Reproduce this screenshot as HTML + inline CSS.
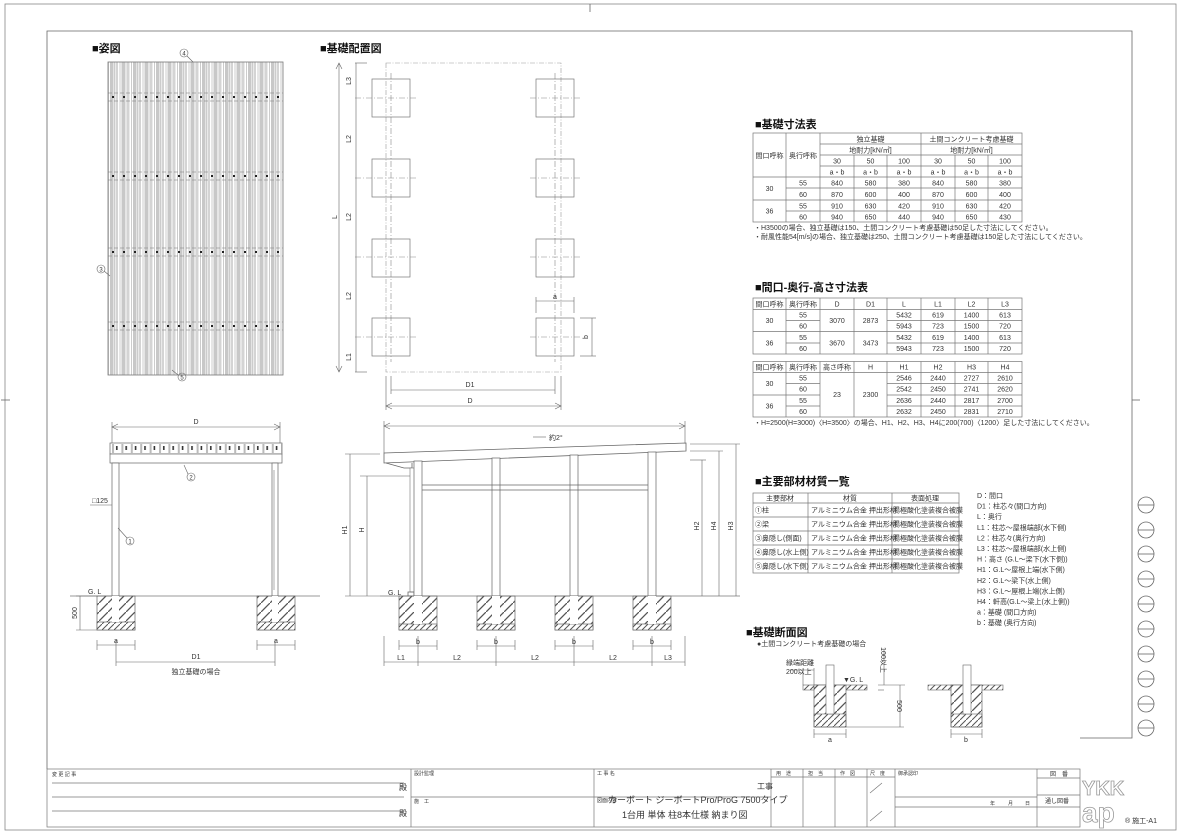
<!DOCTYPE html>
<html><head><meta charset="utf-8"><style>
html,body{margin:0;padding:0;background:#fff;}
svg{display:block;font-family:"Liberation Sans","Noto Sans CJK JP",sans-serif;}
.t{font-size:7px;fill:#333;}
.h{font-size:11px;font-weight:bold;fill:#111;}
.c{text-anchor:middle;}
.ln{stroke:#666;stroke-width:0.8;fill:none;}
.tb{stroke:#777;stroke-width:0.7;fill:none;}
.dl{stroke:#666;stroke-width:0.6;fill:none;}
.dash{stroke:#888;stroke-width:0.6;stroke-dasharray:6 2 1 2;fill:none;}
</style></head><body>
<svg width="1181" height="835" viewBox="0 0 1181 835" xmlns="http://www.w3.org/2000/svg">
<defs>
<pattern id="hatch" patternUnits="userSpaceOnUse" width="9" height="9"><path d="M-1,10 L10,-1" stroke="#555" stroke-width="1.3"/></pattern>
<pattern id="hatch2" patternUnits="userSpaceOnUse" width="6" height="6"><path d="M-1,7 L7,-1" stroke="#555" stroke-width="1"/></pattern>
<pattern id="stripe" patternUnits="userSpaceOnUse" x="108" width="11.5" height="10"><rect x="0" y="0" width="11.5" height="10" fill="#fff"/><rect x="2" y="0" width="3.5" height="10" fill="#c8c8c8"/><rect x="7.5" y="0" width="2.5" height="10" fill="#d4d4d4"/><line x1="0.5" y1="0" x2="0.5" y2="10" stroke="#999" stroke-width="0.5"/><line x1="6.5" y1="0" x2="6.5" y2="10" stroke="#999" stroke-width="0.5"/></pattern>
<pattern id="dots" patternUnits="userSpaceOnUse" x="111" y="443" width="9.4" height="11"><rect width="9.4" height="11" fill="#fff"/><rect x="1" y="1" width="2" height="9" fill="#bbb"/><rect x="5" y="3" width="1.6" height="4" fill="#333"/></pattern>
</defs>

<!-- frames -->
<rect x="5" y="4" width="1171" height="826" fill="none" stroke="#888" stroke-width="0.8"/>
<path d="M47,769 V31 H1132 V738 H1080" class="ln"/>
<line x1="1" y1="400" x2="10" y2="400" class="ln"/><line x1="1132" y1="400" x2="1140" y2="400" class="ln"/>
<line x1="590" y1="4" x2="590" y2="12" class="ln"/>
<!-- circles -->
<g class="ln">
<circle cx="1146" cy="505" r="8"/><line x1="1138" y1="505" x2="1154" y2="505"/>
<circle cx="1146" cy="530" r="8"/><line x1="1138" y1="530" x2="1154" y2="530"/>
<circle cx="1146" cy="554" r="8"/><line x1="1138" y1="554" x2="1154" y2="554"/>
<circle cx="1146" cy="579" r="8"/><line x1="1138" y1="579" x2="1154" y2="579"/>
<circle cx="1146" cy="604" r="8"/><line x1="1138" y1="604" x2="1154" y2="604"/>
<circle cx="1146" cy="629" r="8"/><line x1="1138" y1="629" x2="1154" y2="629"/>
<circle cx="1146" cy="654" r="8"/><line x1="1138" y1="654" x2="1154" y2="654"/>
<circle cx="1146" cy="679" r="8"/><line x1="1138" y1="679" x2="1154" y2="679"/>
<circle cx="1146" cy="704" r="8"/><line x1="1138" y1="704" x2="1154" y2="704"/>
<circle cx="1146" cy="728" r="8"/><line x1="1138" y1="728" x2="1154" y2="728"/>
</g>

<!-- ===== 姿図 ===== -->
<text x="92" y="52" class="h">■姿図</text>
<rect x="108" y="62" width="175" height="313" fill="url(#stripe)" stroke="#777" stroke-width="0.8"/>
<g stroke="#777" stroke-width="0.6" stroke-dasharray="4 2">
<line x1="108" y1="93" x2="283" y2="93"/><line x1="108" y1="101" x2="283" y2="101"/>
<line x1="108" y1="172" x2="283" y2="172"/><line x1="108" y1="180" x2="283" y2="180"/>
<line x1="108" y1="248" x2="283" y2="248"/><line x1="108" y1="256" x2="283" y2="256"/>
<line x1="108" y1="322" x2="283" y2="322"/><line x1="108" y1="330" x2="283" y2="330"/>
</g>
<g fill="#222">
<path d="M112,96h2v2h-2zM123,96h2v2h-2zM134,96h2v2h-2zM145,96h2v2h-2zM156,96h2v2h-2zM167,96h2v2h-2zM178,96h2v2h-2zM189,96h2v2h-2zM200,96h2v2h-2zM211,96h2v2h-2zM222,96h2v2h-2zM233,96h2v2h-2zM244,96h2v2h-2zM255,96h2v2h-2zM266,96h2v2h-2zM277,96h2v2h-2z"/>
<path d="M112,175h2v2h-2zM123,175h2v2h-2zM134,175h2v2h-2zM145,175h2v2h-2zM156,175h2v2h-2zM167,175h2v2h-2zM178,175h2v2h-2zM189,175h2v2h-2zM200,175h2v2h-2zM211,175h2v2h-2zM222,175h2v2h-2zM233,175h2v2h-2zM244,175h2v2h-2zM255,175h2v2h-2zM266,175h2v2h-2zM277,175h2v2h-2z"/>
<path d="M112,251h2v2h-2zM123,251h2v2h-2zM134,251h2v2h-2zM145,251h2v2h-2zM156,251h2v2h-2zM167,251h2v2h-2zM178,251h2v2h-2zM189,251h2v2h-2zM200,251h2v2h-2zM211,251h2v2h-2zM222,251h2v2h-2zM233,251h2v2h-2zM244,251h2v2h-2zM255,251h2v2h-2zM266,251h2v2h-2zM277,251h2v2h-2z"/>
<path d="M112,325h2v2h-2zM123,325h2v2h-2zM134,325h2v2h-2zM145,325h2v2h-2zM156,325h2v2h-2zM167,325h2v2h-2zM178,325h2v2h-2zM189,325h2v2h-2zM200,325h2v2h-2zM211,325h2v2h-2zM222,325h2v2h-2zM233,325h2v2h-2zM244,325h2v2h-2zM255,325h2v2h-2zM266,325h2v2h-2zM277,325h2v2h-2z"/>
</g>
<g class="dl"><circle cx="184" cy="53" r="4"/><line x1="187" y1="56" x2="193" y2="62"/>
<circle cx="101" cy="269" r="4"/><line x1="104" y1="271" x2="110" y2="276"/>
<circle cx="182" cy="377" r="4"/><line x1="178" y1="375" x2="172" y2="370"/></g>
<text x="184" y="55.5" class="t c" style="font-size:6px">4</text>
<text x="101" y="271.5" class="t c" style="font-size:6px">3</text>
<text x="182" y="379.5" class="t c" style="font-size:6px">5</text>

<!-- ===== 基礎配置図 ===== -->
<text x="320" y="52" class="h">■基礎配置図</text>
<rect x="386" y="63" width="175" height="309" fill="none" stroke="#999" stroke-width="0.6" stroke-dasharray="5 1.5 1 1.5"/>
<g class="dash"><line x1="391" y1="73" x2="391" y2="362"/><line x1="555" y1="73" x2="555" y2="362"/></g>
<g class="tb" stroke="#666">
<rect x="372" y="79" width="38" height="38"/><rect x="536" y="79" width="38" height="38"/>
<rect x="372" y="159" width="38" height="38"/><rect x="536" y="159" width="38" height="38"/>
<rect x="372" y="239" width="38" height="38"/><rect x="536" y="239" width="38" height="38"/>
<rect x="372" y="318" width="38" height="38"/><rect x="536" y="318" width="38" height="38"/>
</g>
<g class="dash">
<line x1="355" y1="98" x2="416" y2="98"/><line x1="530" y1="98" x2="582" y2="98"/>
<line x1="355" y1="178" x2="416" y2="178"/><line x1="530" y1="178" x2="582" y2="178"/>
<line x1="355" y1="257" x2="416" y2="257"/><line x1="530" y1="257" x2="582" y2="257"/>
<line x1="355" y1="337" x2="416" y2="337"/><line x1="530" y1="337" x2="582" y2="337"/>
</g>
<g class="dl">
<line x1="339" y1="63" x2="339" y2="372"/><path d="M336,69 L339,63 L342,69"/><path d="M336,366 L339,372 L342,366"/>
<line x1="355" y1="63" x2="367" y2="63"/><line x1="355" y1="372" x2="367" y2="372"/>
<line x1="356" y1="63" x2="356" y2="372"/>
<line x1="391" y1="376" x2="391" y2="394"/><line x1="555" y1="376" x2="555" y2="394"/>
<line x1="386" y1="376" x2="386" y2="410"/><line x1="561" y1="376" x2="561" y2="410"/>
<line x1="391" y1="390" x2="555" y2="390"/>
<line x1="386" y1="406" x2="561" y2="406"/><path d="M392,403 L386,406 L392,409"/><path d="M555,403 L561,406 L555,409"/>
<line x1="536" y1="301" x2="574" y2="301"/><line x1="536" y1="297" x2="536" y2="313"/><line x1="574" y1="297" x2="574" y2="313"/>
<line x1="592" y1="318" x2="592" y2="356"/><line x1="580" y1="318" x2="596" y2="318"/><line x1="580" y1="356" x2="596" y2="356"/>
</g>
<g class="t c">
<text transform="translate(351,81) rotate(-90)">L3</text>
<text transform="translate(351,139) rotate(-90)">L2</text>
<text transform="translate(337,217) rotate(-90)">L</text>
<text transform="translate(351,217) rotate(-90)">L2</text>
<text transform="translate(351,296) rotate(-90)">L2</text>
<text transform="translate(351,357) rotate(-90)">L1</text>
<text x="470" y="387">D1</text><text x="470" y="403">D</text>
<text x="555" y="299">a</text>
<text transform="translate(588,337) rotate(-90)">b</text>
</g>

<!-- ===== 正面図 ===== -->
<g class="dl">
<line x1="112" y1="427" x2="280" y2="427"/><path d="M118,424 L112,427 L118,430"/><path d="M274,424 L280,427 L274,430"/>
<line x1="112" y1="422" x2="112" y2="443"/><line x1="280" y1="422" x2="280" y2="443"/>
</g>
<text x="196" y="424" class="t c">D</text>
<rect x="110" y="443" width="172" height="11" fill="url(#dots)" stroke="#666" stroke-width="0.7"/>
<rect x="110" y="454" width="172" height="9" fill="#fff" stroke="#666" stroke-width="0.7"/>
<rect x="112" y="463" width="7" height="133" fill="#fff" stroke="#666" stroke-width="0.7"/>
<rect x="272" y="463" width="6" height="133" fill="#fff" stroke="#666" stroke-width="0.7"/>
<line x1="274" y1="470" x2="274" y2="590" stroke="#777" stroke-width="0.6"/>
<line x1="70" y1="596" x2="320" y2="596" stroke="#777" stroke-width="0.7"/>
<rect x="97" y="596" width="38" height="34" fill="url(#hatch)" stroke="#666" stroke-width="0.7"/>
<rect x="97" y="622" width="38" height="8" fill="#fff" stroke="#666" stroke-width="0.7"/>
<rect x="97" y="622" width="38" height="8" fill="url(#hatch2)"/>
<rect x="112" y="596" width="7" height="26" fill="#fff"/>
<rect x="257" y="596" width="38" height="34" fill="url(#hatch)" stroke="#666" stroke-width="0.7"/>
<rect x="257" y="622" width="38" height="8" fill="#fff" stroke="#666" stroke-width="0.7"/>
<rect x="257" y="622" width="38" height="8" fill="url(#hatch2)"/>
<rect x="272" y="596" width="6" height="26" fill="#fff"/>
<g class="dl">
<circle cx="191" cy="477" r="4"/><line x1="188" y1="474" x2="184" y2="465"/>
<circle cx="130" cy="541" r="4"/><line x1="127" y1="538" x2="118" y2="528"/>
<line x1="90" y1="505" x2="112" y2="505"/>
<line x1="80" y1="596" x2="80" y2="630"/><line x1="76" y1="596" x2="97" y2="596"/><line x1="76" y1="630" x2="97" y2="630"/>
<line x1="97" y1="640" x2="97" y2="650"/><line x1="135" y1="640" x2="135" y2="650"/><line x1="97" y1="645" x2="135" y2="645"/>
<line x1="257" y1="640" x2="257" y2="650"/><line x1="295" y1="640" x2="295" y2="650"/><line x1="257" y1="645" x2="295" y2="645"/>
<line x1="116" y1="640" x2="116" y2="666"/><line x1="275" y1="640" x2="275" y2="666"/><line x1="116" y1="662" x2="275" y2="662"/>
</g>
<g class="t">
<text x="191" y="479.5" class="c" style="font-size:6px">2</text>
<text x="130" y="543.5" class="c" style="font-size:6px">1</text>
<text x="92" y="503">□125</text>
<text x="88" y="594">G. L</text>
<text transform="translate(77,613) rotate(-90)" class="c">500</text>
<text x="116" y="643" class="c">a</text><text x="276" y="643" class="c">a</text>
<text x="196" y="659" class="c">D1</text>
<text x="196" y="674" class="c">独立基礎の場合</text>
</g>

<!-- ===== 側面図 ===== -->
<g class="dl">
<line x1="384" y1="426" x2="685" y2="426"/><path d="M390,423 L384,426 L390,429"/><path d="M679,423 L685,426 L679,429"/>
<line x1="384" y1="421" x2="384" y2="453"/><line x1="685" y1="421" x2="685" y2="443"/>
<line x1="533" y1="437" x2="546" y2="437"/>
</g>
<text x="549" y="440" class="t">約2°</text>
<polygon points="384,453 686,443 686,451 384,463" fill="#fff" stroke="#666" stroke-width="0.8"/>
<path d="M386,463 L404,468 L412,468 L412,463" class="ln"/>
<rect x="410" y="468" width="5" height="124" fill="#fff" stroke="#777" stroke-width="0.6"/>
<path d="M408,592 h6 v4 h-6z" class="ln"/>
<g fill="#fff" stroke="#666" stroke-width="0.7">
<rect x="414" y="461" width="8" height="135"/><rect x="492" y="458" width="8" height="138"/>
<rect x="570" y="455" width="8" height="141"/><rect x="648" y="452" width="8" height="144"/>
</g>
<g class="ln" stroke-width="0.6"><line x1="422" y1="485" x2="648" y2="485"/><line x1="422" y1="490" x2="648" y2="490"/></g>
<line x1="380" y1="596" x2="740" y2="596" stroke="#777" stroke-width="0.7"/>
<g>
<rect x="399" y="596" width="38" height="34" fill="url(#hatch)" stroke="#666" stroke-width="0.7"/>
<rect x="477" y="596" width="38" height="34" fill="url(#hatch)" stroke="#666" stroke-width="0.7"/>
<rect x="555" y="596" width="38" height="34" fill="url(#hatch)" stroke="#666" stroke-width="0.7"/>
<rect x="633" y="596" width="38" height="34" fill="url(#hatch)" stroke="#666" stroke-width="0.7"/>
<g fill="#fff" stroke="#666" stroke-width="0.7"><rect x="399" y="624" width="38" height="6"/><rect x="477" y="624" width="38" height="6"/><rect x="555" y="624" width="38" height="6"/><rect x="633" y="624" width="38" height="6"/></g>
<g fill="url(#hatch2)"><rect x="399" y="624" width="38" height="6"/><rect x="477" y="624" width="38" height="6"/><rect x="555" y="624" width="38" height="6"/><rect x="633" y="624" width="38" height="6"/></g>
<g fill="#fff"><rect x="414" y="596" width="8" height="28"/><rect x="492" y="596" width="8" height="28"/><rect x="570" y="596" width="8" height="28"/><rect x="648" y="596" width="8" height="28"/></g>
</g>
<g class="dl">
<line x1="399" y1="646" x2="437" y2="646"/><line x1="477" y1="646" x2="515" y2="646"/><line x1="555" y1="646" x2="593" y2="646"/><line x1="633" y1="646" x2="671" y2="646"/>
<line x1="399" y1="640" x2="399" y2="650"/><line x1="437" y1="640" x2="437" y2="650"/><line x1="477" y1="640" x2="477" y2="650"/><line x1="515" y1="640" x2="515" y2="650"/><line x1="555" y1="640" x2="555" y2="650"/><line x1="593" y1="640" x2="593" y2="650"/><line x1="633" y1="640" x2="633" y2="650"/><line x1="671" y1="640" x2="671" y2="650"/>
<line x1="384" y1="662" x2="685" y2="662"/>
<line x1="384" y1="636" x2="384" y2="666"/><line x1="418" y1="636" x2="418" y2="666"/><line x1="496" y1="636" x2="496" y2="666"/><line x1="574" y1="636" x2="574" y2="666"/><line x1="652" y1="636" x2="652" y2="666"/><line x1="685" y1="636" x2="685" y2="666"/>
<line x1="690" y1="444" x2="740" y2="444"/><line x1="690" y1="451" x2="723" y2="451"/><line x1="690" y1="460" x2="706" y2="460"/>
<line x1="702" y1="460" x2="702" y2="596"/><line x1="719" y1="451" x2="719" y2="596"/><line x1="736" y1="444" x2="736" y2="596"/>
<line x1="345" y1="454" x2="380" y2="454"/><line x1="360" y1="476" x2="410" y2="476"/>
<line x1="350" y1="454" x2="350" y2="596"/><line x1="367" y1="476" x2="367" y2="596"/>
<line x1="345" y1="596" x2="380" y2="596"/>
</g>
<g class="t c">
<text x="418" y="644">b</text><text x="496" y="644">b</text><text x="574" y="644">b</text><text x="652" y="644">b</text>
<text x="401" y="660">L1</text><text x="457" y="660">L2</text><text x="535" y="660">L2</text><text x="613" y="660">L2</text><text x="668" y="660">L3</text>
<text transform="translate(699,526) rotate(-90)">H2</text>
<text transform="translate(716,526) rotate(-90)">H4</text>
<text transform="translate(733,526) rotate(-90)">H3</text>
<text transform="translate(347,530) rotate(-90)">H1</text>
<text transform="translate(364,530) rotate(-90)">H</text>
</g>
<text x="388" y="595" class="t">G. L</text>

<!-- ===== 基礎寸法表 ===== -->
<text x="755" y="128" class="h">■基礎寸法表</text>
<g class="tb">
<rect x="753" y="133" width="269" height="89"/>
<line x1="820" y1="144" x2="1022" y2="144"/>
<line x1="820" y1="155" x2="1022" y2="155"/>
<line x1="820" y1="166" x2="1022" y2="166"/>
<line x1="753" y1="177" x2="1022" y2="177"/>
<line x1="786" y1="188" x2="1022" y2="188"/>
<line x1="753" y1="200" x2="1022" y2="200"/>
<line x1="786" y1="211" x2="1022" y2="211"/>
<line x1="786" y1="133" x2="786" y2="222"/><line x1="820" y1="133" x2="820" y2="222"/>
<line x1="921" y1="133" x2="921" y2="222"/>
<line x1="854" y1="155" x2="854" y2="222"/><line x1="887" y1="155" x2="887" y2="222"/>
<line x1="955" y1="155" x2="955" y2="222"/><line x1="988" y1="155" x2="988" y2="222"/>
</g>
<g class="t c">
<text x="769.5" y="158">間口呼称</text><text x="803" y="158">奥行呼称</text>
<text x="870.5" y="141.5">独立基礎</text><text x="971.5" y="141.5">土間コンクリート考慮基礎</text>
<text x="870.5" y="152.5">地耐力[kN/㎡]</text><text x="971.5" y="152.5">地耐力[kN/㎡]</text>
<text x="837" y="163.5">30</text><text x="870.5" y="163.5">50</text><text x="904" y="163.5">100</text><text x="938" y="163.5">30</text><text x="971.5" y="163.5">50</text><text x="1005" y="163.5">100</text>
<text x="837" y="174.5">a・b</text><text x="870.5" y="174.5">a・b</text><text x="904" y="174.5">a・b</text><text x="938" y="174.5">a・b</text><text x="971.5" y="174.5">a・b</text><text x="1005" y="174.5">a・b</text>
<text x="769.5" y="191">30</text><text x="769.5" y="213.5">36</text>
<text x="803" y="185.5">55</text><text x="837" y="185.5">840</text><text x="870.5" y="185.5">580</text><text x="904" y="185.5">380</text><text x="938" y="185.5">840</text><text x="971.5" y="185.5">580</text><text x="1005" y="185.5">380</text>
<text x="803" y="197">60</text><text x="837" y="197">870</text><text x="870.5" y="197">600</text><text x="904" y="197">400</text><text x="938" y="197">870</text><text x="971.5" y="197">600</text><text x="1005" y="197">400</text>
<text x="803" y="208.5">55</text><text x="837" y="208.5">910</text><text x="870.5" y="208.5">630</text><text x="904" y="208.5">420</text><text x="938" y="208.5">910</text><text x="971.5" y="208.5">630</text><text x="1005" y="208.5">420</text>
<text x="803" y="219.5">60</text><text x="837" y="219.5">940</text><text x="870.5" y="219.5">650</text><text x="904" y="219.5">440</text><text x="938" y="219.5">940</text><text x="971.5" y="219.5">650</text><text x="1005" y="219.5">430</text>
</g>
<text x="754" y="230" class="t">・H3500の場合、独立基礎は150、土間コンクリート考慮基礎は50足した寸法にしてください。</text>
<text x="754" y="239" class="t">・耐風性能54[m/s]の場合、独立基礎は250、土間コンクリート考慮基礎は150足した寸法にしてください。</text>

<!-- ===== 間口-奥行-高さ寸法表 ===== -->
<text x="755" y="291" class="h">■間口-奥行-高さ寸法表</text>
<g class="tb">
<rect x="753" y="298" width="269" height="56"/>
<line x1="753" y1="309.5" x2="1022" y2="309.5"/>
<line x1="786" y1="320.5" x2="820" y2="320.5"/><line x1="887" y1="320.5" x2="1022" y2="320.5"/>
<line x1="753" y1="331.5" x2="1022" y2="331.5"/>
<line x1="786" y1="343" x2="820" y2="343"/><line x1="887" y1="343" x2="1022" y2="343"/>
<line x1="786" y1="298" x2="786" y2="354"/><line x1="820" y1="298" x2="820" y2="354"/><line x1="854" y1="298" x2="854" y2="354"/><line x1="887" y1="298" x2="887" y2="354"/><line x1="921" y1="298" x2="921" y2="354"/><line x1="955" y1="298" x2="955" y2="354"/><line x1="988" y1="298" x2="988" y2="354"/>
<rect x="753" y="361.5" width="269" height="55.5"/>
<line x1="753" y1="372.5" x2="1022" y2="372.5"/>
<line x1="786" y1="383.5" x2="820" y2="383.5"/><line x1="887" y1="383.5" x2="1022" y2="383.5"/>
<line x1="753" y1="395" x2="820" y2="395"/><line x1="887" y1="395" x2="1022" y2="395"/>
<line x1="786" y1="406" x2="820" y2="406"/><line x1="887" y1="406" x2="1022" y2="406"/>
<line x1="786" y1="361.5" x2="786" y2="417"/><line x1="820" y1="361.5" x2="820" y2="417"/><line x1="854" y1="361.5" x2="854" y2="417"/><line x1="887" y1="361.5" x2="887" y2="417"/><line x1="921" y1="361.5" x2="921" y2="417"/><line x1="955" y1="361.5" x2="955" y2="417"/><line x1="988" y1="361.5" x2="988" y2="417"/>
</g>
<g class="t c">
<text x="769.5" y="306.5">間口呼称</text><text x="803" y="306.5">奥行呼称</text><text x="837" y="306.5">D</text><text x="870.5" y="306.5">D1</text><text x="904" y="306.5">L</text><text x="938" y="306.5">L1</text><text x="971.5" y="306.5">L2</text><text x="1005" y="306.5">L3</text>
<text x="769.5" y="323">30</text><text x="769.5" y="345.5">36</text>
<text x="837" y="323">3070</text><text x="870.5" y="323">2873</text><text x="837" y="345.5">3670</text><text x="870.5" y="345.5">3473</text>
<text x="803" y="317.5">55</text><text x="904" y="317.5">5432</text><text x="938" y="317.5">619</text><text x="971.5" y="317.5">1400</text><text x="1005" y="317.5">613</text>
<text x="803" y="328.5">60</text><text x="904" y="328.5">5943</text><text x="938" y="328.5">723</text><text x="971.5" y="328.5">1500</text><text x="1005" y="328.5">720</text>
<text x="803" y="340">55</text><text x="904" y="340">5432</text><text x="938" y="340">619</text><text x="971.5" y="340">1400</text><text x="1005" y="340">613</text>
<text x="803" y="351">60</text><text x="904" y="351">5943</text><text x="938" y="351">723</text><text x="971.5" y="351">1500</text><text x="1005" y="351">720</text>
<text x="769.5" y="369.5">間口呼称</text><text x="803" y="369.5">奥行呼称</text><text x="837" y="369.5">高さ呼称</text><text x="870.5" y="369.5">H</text><text x="904" y="369.5">H1</text><text x="938" y="369.5">H2</text><text x="971.5" y="369.5">H3</text><text x="1005" y="369.5">H4</text>
<text x="769.5" y="386">30</text><text x="769.5" y="408.5">36</text>
<text x="837" y="397">23</text><text x="870.5" y="397">2300</text>
<text x="803" y="380.5">55</text><text x="904" y="380.5">2546</text><text x="938" y="380.5">2440</text><text x="971.5" y="380.5">2727</text><text x="1005" y="380.5">2610</text>
<text x="803" y="391.5">60</text><text x="904" y="391.5">2542</text><text x="938" y="391.5">2450</text><text x="971.5" y="391.5">2741</text><text x="1005" y="391.5">2620</text>
<text x="803" y="403">55</text><text x="904" y="403">2636</text><text x="938" y="403">2440</text><text x="971.5" y="403">2817</text><text x="1005" y="403">2700</text>
<text x="803" y="414">60</text><text x="904" y="414">2632</text><text x="938" y="414">2450</text><text x="971.5" y="414">2831</text><text x="1005" y="414">2710</text>
</g>
<text x="754" y="425" class="t">・H=2500(H=3000)〈H=3500〉の場合、H1、H2、H3、H4に200(700)〈1200〉足した寸法にしてください。</text>

<!-- ===== 主要部材材質一覧 ===== -->
<text x="755" y="485" class="h">■主要部材材質一覧</text>
<g class="tb">
<rect x="753" y="493" width="206" height="80"/>
<line x1="753" y1="503" x2="959" y2="503"/><line x1="753" y1="517" x2="959" y2="517"/><line x1="753" y1="531" x2="959" y2="531"/><line x1="753" y1="545" x2="959" y2="545"/><line x1="753" y1="559" x2="959" y2="559"/>
<line x1="808" y1="493" x2="808" y2="573"/><line x1="892" y1="493" x2="892" y2="573"/>
</g>
<g class="t">
<text x="780" y="500.5" class="c">主要部材</text><text x="850" y="500.5" class="c">材質</text><text x="925" y="500.5" class="c">表面処理</text>
<text x="755" y="512.5">①柱</text><text x="755" y="526.5">②梁</text><text x="755" y="540.5">③鼻隠し(側面)</text><text x="755" y="554.5">④鼻隠し(水上側)</text><text x="755" y="568.5">⑤鼻隠し(水下側)</text>
<text x="811" y="512.5">アルミニウム合金 押出形材</text><text x="811" y="526.5">アルミニウム合金 押出形材</text><text x="811" y="540.5">アルミニウム合金 押出形材</text><text x="811" y="554.5">アルミニウム合金 押出形材</text><text x="811" y="568.5">アルミニウム合金 押出形材</text>
<text x="893" y="512.5">陽極酸化塗装複合被膜</text><text x="893" y="526.5">陽極酸化塗装複合被膜</text><text x="893" y="540.5">陽極酸化塗装複合被膜</text><text x="893" y="554.5">陽極酸化塗装複合被膜</text><text x="893" y="568.5">陽極酸化塗装複合被膜</text>
</g>
<g class="t">
<text x="977" y="498">D：間口</text>
<text x="977" y="508.6">D1：柱芯々(間口方向)</text>
<text x="977" y="519.2">L：奥行</text>
<text x="977" y="529.8">L1：柱芯～屋根端部(水下側)</text>
<text x="977" y="540.4">L2：柱芯々(奥行方向)</text>
<text x="977" y="551">L3：柱芯～屋根端部(水上側)</text>
<text x="977" y="561.6">H：高さ (G.L～梁下(水下側))</text>
<text x="977" y="572.2">H1：G.L～屋根上端(水下側)</text>
<text x="977" y="582.8">H2：G.L～梁下(水上側)</text>
<text x="977" y="593.4">H3：G.L～屋根上端(水上側)</text>
<text x="977" y="604">H4：軒高(G.L～梁上(水上側))</text>
<text x="977" y="614.6">a：基礎 (間口方向)</text>
<text x="977" y="625.2">b：基礎 (奥行方向)</text>
</g>

<!-- ===== 基礎断面図 ===== -->
<text x="746" y="636" class="h">■基礎断面図</text>
<text x="757" y="646" class="t">●土間コンクリート考慮基礎の場合</text>
<g>
<rect x="803" y="685" width="64" height="5" fill="url(#hatch2)" stroke="#666" stroke-width="0.6"/>
<rect x="814" y="685" width="32" height="42" fill="#fff" stroke="#666" stroke-width="0.7"/>
<rect x="814" y="685" width="32" height="29" fill="url(#hatch)"/>
<rect x="814" y="714" width="32" height="13" fill="url(#hatch2)" stroke="#666" stroke-width="0.6"/>
<rect x="826" y="665" width="8" height="49" fill="#fff" stroke="#666" stroke-width="0.6"/>
<rect x="928" y="685" width="75" height="5" fill="url(#hatch2)" stroke="#666" stroke-width="0.6"/>
<rect x="951" y="685" width="31" height="42" fill="#fff" stroke="#666" stroke-width="0.7"/>
<rect x="951" y="685" width="31" height="29" fill="url(#hatch)"/>
<rect x="951" y="714" width="31" height="13" fill="url(#hatch2)" stroke="#666" stroke-width="0.6"/>
<rect x="963" y="665" width="8" height="49" fill="#fff" stroke="#666" stroke-width="0.6"/>
</g>
<g class="dl">
<line x1="803" y1="668" x2="803" y2="685"/><line x1="814" y1="668" x2="814" y2="685"/><line x1="790" y1="670" x2="814" y2="670"/>
<line x1="884" y1="650" x2="884" y2="685"/><line x1="878" y1="685" x2="905" y2="685"/><line x1="878" y1="690" x2="884" y2="690"/>
<line x1="900" y1="685" x2="900" y2="727"/><line x1="846" y1="727" x2="904" y2="727"/>
<line x1="814" y1="729" x2="814" y2="738"/><line x1="846" y1="729" x2="846" y2="738"/><line x1="814" y1="734" x2="846" y2="734"/>
<line x1="951" y1="729" x2="951" y2="738"/><line x1="982" y1="729" x2="982" y2="738"/><line x1="951" y1="734" x2="982" y2="734"/>
</g>
<g class="t">
<text x="786" y="665">縁端距離</text><text x="786" y="674">200以上</text>
<text x="843" y="682">▼G. L</text>
<text transform="translate(881,660) rotate(90)" class="c">100以上</text>
<text transform="translate(897,706) rotate(90)" class="c">500</text>
<text x="830" y="742" class="c">a</text><text x="966" y="742" class="c">b</text>
</g>

<!-- ===== title block ===== -->
<g class="tb">
<rect x="47" y="769" width="1033" height="58"/>
<line x1="411" y1="769" x2="411" y2="827"/><line x1="594" y1="769" x2="594" y2="827"/>
<line x1="411" y1="797" x2="771" y2="797"/>
<line x1="771" y1="769" x2="771" y2="827"/><line x1="803" y1="769" x2="803" y2="827"/><line x1="835" y1="769" x2="835" y2="827"/><line x1="867" y1="769" x2="867" y2="827"/><line x1="895" y1="769" x2="895" y2="827"/>
<line x1="771" y1="777" x2="895" y2="777"/>
<line x1="895" y1="797" x2="1037" y2="797"/><line x1="895" y1="807" x2="1037" y2="807"/>
<line x1="1037" y1="769" x2="1037" y2="827"/>
<line x1="1037" y1="778" x2="1080" y2="778"/><line x1="1037" y1="795" x2="1080" y2="795"/><line x1="1037" y1="807" x2="1080" y2="807"/>
<line x1="870" y1="793" x2="882" y2="783"/><line x1="870" y1="821" x2="882" y2="811"/>
<line x1="52" y1="783" x2="404" y2="783"/><line x1="52" y1="797" x2="404" y2="797"/><line x1="52" y1="811" x2="404" y2="811"/>
</g>
<g class="t" style="font-size:5px">
<text x="52" y="776">変 更 記 事</text><text x="414" y="775">設計監理</text><text x="414" y="803">施　工</text><text x="597" y="775">工 事 名</text><text x="597" y="802">図面内容</text>
<text x="776" y="775">用　途</text><text x="808" y="775">担　当</text><text x="840" y="775">作　図</text><text x="870" y="775">尺　度</text><text x="898" y="775">御承認印</text>
<text x="990" y="805">年</text><text x="1008" y="805">月</text><text x="1025" y="805">日</text>
</g>
<g class="t" style="font-size:8px">
<text x="399" y="790">殿</text><text x="399" y="816">殿</text>
<text x="757" y="789">工事</text>
<text x="1050" y="776" style="font-size:6px">図　番</text>
<text x="1045" y="803" style="font-size:6px">通し図番</text>
<text x="608" y="803" style="font-size:9px">カーボート ジーボートPro/ProG 7500タイプ</text>
<text x="622" y="818" style="font-size:9px">1台用 単体 柱8本仕様 納まり図</text>
</g>
<g fill="none" stroke="#888" stroke-width="0.8">
<text x="1082" y="795" style="font-size:20px;font-weight:bold" fill="#fff" stroke="#999" stroke-width="0.8">YKK</text>
<text x="1082" y="822" style="font-size:28px;font-weight:bold" fill="#fff" stroke="#999" stroke-width="0.8">ap</text>
</g>
<text x="1125" y="823" class="t">® 施工-A1</text>
</svg>
</body></html>
